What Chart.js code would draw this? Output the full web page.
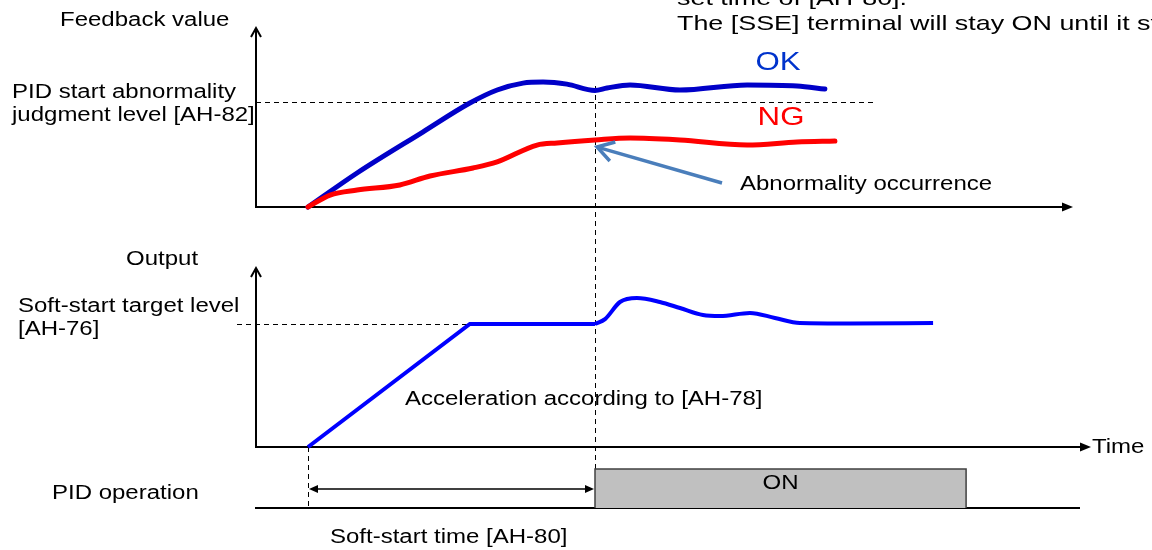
<!DOCTYPE html>
<html><head><meta charset="utf-8">
<script src="https://cdn.jsdelivr.net/npm/chart.js@4.4.0/dist/chart.umd.min.js"></script>
<style>html,body{margin:0;padding:0;background:#fff;}#wrap{width:1152px;height:550px;position:relative;}</style>
</head><body><div id="wrap"><canvas id="c" width="1152" height="550"></canvas></div>
<script>
// ---------------- data (time units; soft-start time = 10 units) ----------------
const okTime   = [0, 1.71, 4.0, 5.64, 6.59, 7.49, 8.19, 9.02, 10.0, 10.42, 11.22, 12.96, 15.3, 17.04, 18.01];
const okValue  = [0, 32.4, 71.4, 99, 111.4, 118, 119, 117, 111.0, 113.3, 116.2, 111.4, 116.2, 115.2, 112.4];
const ngTime   = [0, 0.77, 1.71, 3.2, 4.25, 5.75, 6.59, 7.98, 8.68, 10.0, 11.22, 12.96, 15.3, 17.04, 18.36];
const ngValue  = [0, 11.4, 16.2, 21, 29.5, 37.1, 42.9, 59, 61, 63.8, 65.7, 63.8, 59, 61.9, 62.9];
const rampTime  = [0, 5.64, 10.0];
const rampValue = [0, 100, 100];
const respTime  = [10.0, 10.35, 10.87, 11.46, 12.26, 12.96, 13.76, 14.36, 15.4, 16.27, 17.14, 18.9, 21.78];
const respValue = [100, 104, 117.9, 121.1, 117.9, 113, 107.3, 106.5, 109, 104.9, 100.8, 100.4, 100.8];
const judgeLevel = 100;      // [AH-82]
const targetLevel = 100;     // [AH-76]
const softStartTime = 10;    // [AH-80]
const pidOnStart = 10, pidOnEnd = 22.93;
const pidState = [0, 1, 1, 0];

// ---------------- layout (pixels) ----------------
const W = 1152, H = 550;
const T0PX = 308, PX_PER_T = 28.7;
const FB = {base: 207, k: 1.05}, OUT = {base: 447, k: 1.23}, PID = {base: 508, k: 39};
const fbY = v => FB.base - v * FB.k;
const outY = v => OUT.base - v * OUT.k;
const pidY = v => PID.base - v * PID.k;
const SX = 1.2;
const FONT = '"Liberation Sans", Arial, sans-serif';

const pts = (ts, vs, f) => ts.map((t, i) => ({x: t, y: f(vs[i])}));

const diagram = {
  id: 'diagram',
  beforeDatasetsDraw(chart) {
    const ctx = chart.ctx, xs = chart.scales.x, ys = chart.scales.y;
    const X = t => xs.getPixelForValue(t), Y = v => ys.getPixelForValue(v);
    const r = v => Math.round(v) + 0.5;
    ctx.save();
    ctx.strokeStyle = '#000';
    const dl = (x1, y1, x2, y2) => { ctx.beginPath(); ctx.moveTo(x1, y1); ctx.lineTo(x2, y2); ctx.stroke(); };
    // dashed lines
    ctx.lineWidth = 1; ctx.setLineDash([5, 4]);
    dl(256, r(Y(fbY(judgeLevel))), 875, r(Y(fbY(judgeLevel))));
    dl(237, r(Y(outY(targetLevel))), X(softStartTime), r(Y(outY(targetLevel))));
    dl(r(X(softStartTime)), 86, r(X(softStartTime)), Y(pidY(1)));
    dl(r(X(0)), Y(OUT.base), r(X(0)), 506);
    ctx.setLineDash([]);
    // axes
    ctx.lineWidth = 2;
    const axisY = (x, yb, yt) => {
      dl(x, yb, x, yt);
      ctx.beginPath(); ctx.moveTo(x - 5, yt + 9); ctx.lineTo(x, yt); ctx.lineTo(x + 5, yt + 9); ctx.stroke();
    };
    const axisX = (x1, y, tip) => {
      dl(x1, y, tip - 8, y);
      ctx.beginPath(); ctx.moveTo(tip, y); ctx.lineTo(tip - 11, y - 4.5); ctx.lineTo(tip - 11, y + 4.5); ctx.closePath();
      ctx.fillStyle = '#000'; ctx.fill();
    };
    axisY(256, Y(FB.base) + 1, 28);
    axisX(255, Y(FB.base), 1073);
    axisY(256, Y(OUT.base) + 1, 268);
    axisX(255, Y(OUT.base), 1091);
    dl(255, Y(PID.base), 1080, Y(PID.base));
    ctx.restore();
  },
  afterDatasetsDraw(chart) {
    const ctx = chart.ctx, xs = chart.scales.x, ys = chart.scales.y;
    const X = t => xs.getPixelForValue(t), Y = v => ys.getPixelForValue(v);
    ctx.save();
    // pointer arrow "Abnormality occurrence"
    const tx = X(softStartTime) + 2, ty = Y(fbY(63.8)) + 7;
    const fx = 722, fy = 183;
    ctx.strokeStyle = '#4a7ebb'; ctx.lineWidth = 3.5; ctx.lineCap = 'butt';
    ctx.beginPath(); ctx.moveTo(fx, fy); ctx.lineTo(tx + 2, ty + 0.6); ctx.stroke();
    const ang = Math.atan2(fy - ty, fx - tx);
    ctx.beginPath();
    ctx.moveTo(tx + 19 * Math.cos(ang - 0.55), ty + 19 * Math.sin(ang - 0.55));
    ctx.lineTo(tx, ty);
    ctx.lineTo(tx + 19 * Math.cos(ang + 0.55), ty + 19 * Math.sin(ang + 0.55));
    ctx.stroke();
    // soft-start time double arrow
    const ay = 489, ax1 = X(0) + 1, ax2 = X(softStartTime) - 1;
    ctx.strokeStyle = '#000'; ctx.fillStyle = '#000'; ctx.lineWidth = 1.5;
    ctx.beginPath(); ctx.moveTo(ax1 + 6, ay); ctx.lineTo(ax2 - 6, ay); ctx.stroke();
    ctx.beginPath(); ctx.moveTo(ax1, ay); ctx.lineTo(ax1 + 9, ay - 4); ctx.lineTo(ax1 + 9, ay + 4); ctx.closePath(); ctx.fill();
    ctx.beginPath(); ctx.moveTo(ax2, ay); ctx.lineTo(ax2 - 9, ay - 4); ctx.lineTo(ax2 - 9, ay + 4); ctx.closePath(); ctx.fill();
    // texts
    const txt = (s, x, y, size, color, align, sx) => {
      ctx.save(); ctx.font = size + 'px ' + FONT; ctx.fillStyle = color || '#000';
      ctx.textBaseline = 'middle'; ctx.textAlign = align || 'left';
      ctx.translate(x, y); ctx.scale(sx || SX, 1); ctx.fillText(s, 0, 0); ctx.restore();
    };
    txt('set time of [AH-80].', 677, -1, 21, '#000', 'left', 1.28);
    txt('The [SSE] terminal will stay ON until it stops.', 677, 24, 21, '#000', 'left', 1.28);
    txt('Feedback value', 60, 20, 20);
    txt('PID start abnormality', 12, 92, 20);
    txt('judgment level [AH-82]', 12, 115, 20);
    txt('OK', 778, 63, 26, '#0033cc', 'center');
    txt('NG', 781, 118, 26, '#ff0000', 'center');
    txt('Abnormality occurrence', 740, 184, 20);
    txt('Output', 126, 259, 20);
    txt('Soft-start target level', 18, 306, 20);
    txt('[AH-76]', 18, 329, 20);
    txt('Acceleration according to [AH-78]', 405, 399, 20);
    txt('Time', 1092, 447, 20);
    txt('PID operation', 52, 493, 20);
    txt('ON', (X(pidOnStart) + X(pidOnEnd)) / 2, 483, 20, '#000', 'center');
    txt('Soft-start time [AH-80]', 330, 537, 20);
    ctx.restore();
  }
};

new Chart(document.getElementById('c'), {
  type: 'scatter',
  data: {
    datasets: [
      { data: [{x: pidOnStart, y: pidY(pidState[0])}, {x: pidOnStart, y: pidY(pidState[1])}, {x: pidOnEnd, y: pidY(pidState[2])}, {x: pidOnEnd, y: pidY(pidState[3])}],
        showLine: true, tension: 0, fill: {value: PID.base}, backgroundColor: '#c0c0c0', borderColor: '#404040', borderWidth: 1.5, pointRadius: 0 },
      { data: pts(ngTime, ngValue, fbY), showLine: true, cubicInterpolationMode: 'monotone', borderColor: '#ff0000', borderWidth: 5, pointRadius: 0, borderCapStyle: 'round' },
      { data: pts(okTime, okValue, fbY), showLine: true, cubicInterpolationMode: 'monotone', borderColor: '#0000c8', borderWidth: 5, pointRadius: 0, borderCapStyle: 'round' },
      { data: pts(rampTime, rampValue, outY), showLine: true, tension: 0, borderColor: '#0000ff', borderWidth: 4, pointRadius: 0 },
      { data: pts(respTime, respValue, outY), showLine: true, cubicInterpolationMode: 'monotone', borderColor: '#0000ff', borderWidth: 4, pointRadius: 0 }
    ]
  },
  options: {
    responsive: false, animation: false, devicePixelRatio: 1, events: [],
    layout: {padding: 0},
    plugins: {legend: {display: false}, tooltip: {enabled: false}},
    scales: {
      x: {type: 'linear', display: false, min: -T0PX / PX_PER_T, max: (W - T0PX) / PX_PER_T},
      y: {type: 'linear', display: false, min: 0, max: H, reverse: true}
    }
  },
  plugins: [diagram]
});
</script></body></html>
